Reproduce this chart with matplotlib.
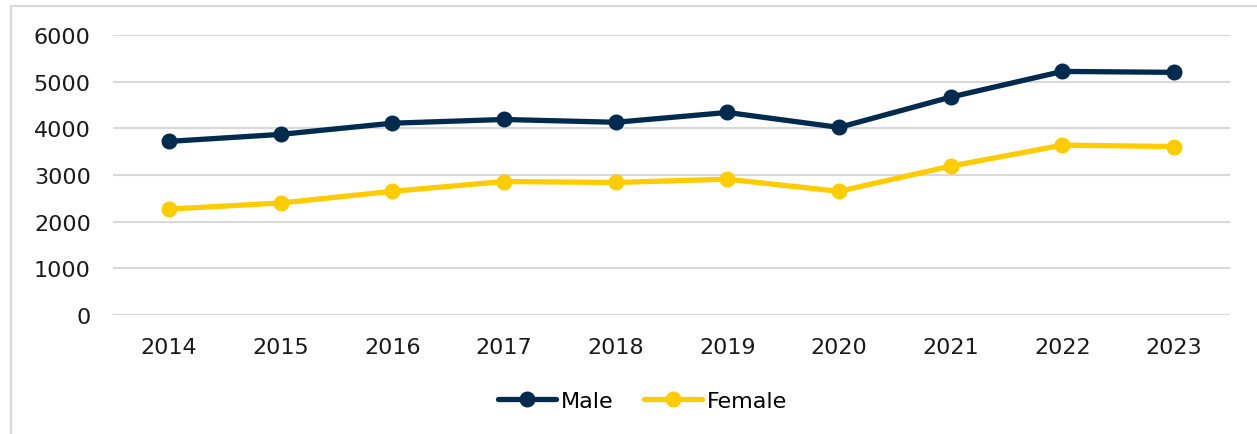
import matplotlib.pyplot as plt
from matplotlib.patches import Rectangle

years = ["2014", "2015", "2016", "2017", "2018", "2019", "2020", "2021", "2022", "2023"]
male = [3720, 3870, 4110, 4190, 4130, 4340, 4020, 4670, 5220, 5200]
female = [2270, 2400, 2650, 2860, 2840, 2910, 2650, 3190, 3640, 3610]
yticks = [0, 1000, 2000, 3000, 4000, 5000, 6000]

plt.rcParams['font.family'] = ['DejaVu Sans']

fig = plt.figure(figsize=(12.57, 4.35), dpi=100)
ax = fig.add_axes([0.0899, 0.2736, 0.8886, 0.6436])

# chart area border, cut off at right and bottom
fig.add_artist(Rectangle((11 / 1257, -0.1), 1.2, 1.1 - 7 / 435,
                         transform=fig.transFigure, fill=False,
                         edgecolor='#d9d9d9', linewidth=1.6))

x = range(len(years))
ax.plot(x, male, color='#002a4e', linewidth=3.8, marker='o',
        markersize=10.5, label='Male', solid_capstyle='round')
ax.plot(x, female, color='#ffcc00', linewidth=3.8, marker='o',
        markersize=10.5, label='Female', solid_capstyle='round')

ax.set_xlim(-0.5, len(years) - 0.5)
ax.set_ylim(0, 6000)
ax.set_yticks(yticks)
ax.set_xticks(list(x))
ax.set_xticklabels(years)
ax.grid(axis='y', color='#d9d9d9', linewidth=1.5)
ax.set_axisbelow(True)
for s in ax.spines.values():
    s.set_visible(False)
ax.tick_params(axis='both', length=0, labelsize=16, colors='#1a1a1a')
ax.tick_params(axis='y', pad=16)
ax.tick_params(axis='x', pad=16)

ax.legend(loc='upper center', bbox_to_anchor=(0.474, -0.2), ncol=2,
          frameon=False, fontsize=16, handlelength=2.6, handletextpad=0.2,
          columnspacing=1.4)

fig.savefig('out.png', dpi=100)
